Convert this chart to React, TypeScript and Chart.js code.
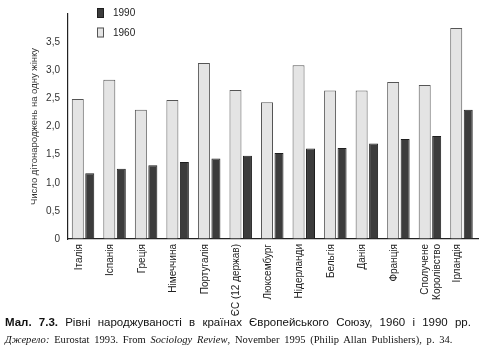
import React, { useEffect, useRef } from "react";
import { Chart, registerables } from "chart.js";

Chart.register(...registerables);

const categories: (string | string[])[] = [
  "Італія",
  "Іспанія",
  "Греція",
  "Німеччина",
  "Португалія",
  "ЄС (12 держав)",
  "Люксембург",
  "Нідерланди",
  "Бельгія",
  "Данія",
  "Франція",
  ["Сполучене", "Королівство"],
  "Ірландія",
];

const values1960 = [2.49, 2.83, 2.3, 2.47, 3.13, 2.65, 2.43, 3.09, 2.64, 2.64, 2.79, 2.74, 3.75];
const values1990 = [1.17, 1.25, 1.31, 1.37, 1.43, 1.48, 1.53, 1.61, 1.62, 1.7, 1.78, 1.83, 2.3];

const seriesLabels = ["1960", "1990"];
const legendOrder = ["1990", "1960"];

const yTickValues = [0, 0.5, 1, 1.5, 2, 2.5, 3, 3.5];
const yTickLabels = ["0", "0,5", "1,0", "1,5", "2,0", "2,5", "3,0", "3,5"];

const yTitle = "Число дітонароджень на одну жінку";

const LIGHT = "#e4e4e4";
const LIGHT_BORDER = "#555555";
const DARK = "#3c3c3c";
const DARK_BORDER = "#1e1e1e";

const insideLegend = {
  id: "insideLegend",
  afterDraw(chart: any) {
    const ctx = chart.ctx;
    ctx.save();
    legendOrder.forEach((lab, i) => {
      const ds = chart.data.datasets.find((d: any) => d.label === lab);
      const bx = 97;
      const by = 8 + i * 19.5;
      ctx.fillStyle = ds.backgroundColor;
      ctx.strokeStyle = ds.borderColor;
      ctx.lineWidth = 1;
      ctx.fillRect(bx, by, 7, 10);
      ctx.strokeRect(bx + 0.5, by + 0.5, 6, 9);
      ctx.fillStyle = "#222";
      ctx.font = "10px 'Liberation Sans', Arial, sans-serif";
      ctx.textBaseline = "middle";
      ctx.textAlign = "left";
      ctx.fillText(lab, 113, by + 5.5);
    });
    ctx.restore();
  },
};

function FertilityChart() {
  const ref = useRef<HTMLCanvasElement | null>(null);
  useEffect(() => {
    if (!ref.current) return;
    const chart = new Chart(ref.current, {
      type: "bar",
      data: {
        labels: categories,
        datasets: [
          {
            label: seriesLabels[0],
            data: values1960,
            backgroundColor: LIGHT,
            borderColor: LIGHT_BORDER,
            borderWidth: 1,
          },
          {
            label: seriesLabels[1],
            data: values1990,
            backgroundColor: DARK,
            borderColor: DARK_BORDER,
            borderWidth: 1,
            maxBarThickness: 9,
          },
        ],
      },
      options: {
        animation: false,
        responsive: false,
        events: [],
        layout: { padding: { top: 6, right: 4, left: 0, bottom: 0 } },
        datasets: {
          bar: { categoryPercentage: 0.76, barPercentage: 1 },
        },
        plugins: {
          legend: { display: false },
          tooltip: { enabled: false },
        },
        scales: {
          x: {
            grid: { drawOnChartArea: false, drawTicks: false },
            border: { color: "#222", width: 1.2 },
            ticks: {
              autoSkip: false,
              minRotation: 90,
              maxRotation: 90,
              padding: 5,
              labelOffset: -5,
              color: "#222",
              font: { size: 10, family: "'Liberation Sans', Arial, sans-serif" },
            },
            afterFit(scale: any) {
              scale.height = 83;
            },
          },
          y: {
            min: 0,
            max: 4,
            grid: { drawOnChartArea: false, drawTicks: false },
            border: { color: "#222", width: 1.2 },
            afterBuildTicks(scale: any) {
              scale.ticks = yTickValues.map((v) => ({ value: v }));
            },
            ticks: {
              padding: 8,
              color: "#333",
              font: { size: 10, family: "'Liberation Sans', Arial, sans-serif" },
              callback: (v: any) => {
                const idx = yTickValues.indexOf(Number(v));
                return idx >= 0 ? yTickLabels[idx] : "";
              },
            },
            title: {
              display: true,
              text: yTitle,
              color: "#333",
              padding: { top: 29, bottom: 0 },
              font: { size: 9.5, family: "'Liberation Sans', Arial, sans-serif" },
            },
            afterFit(scale: any) {
              scale.width = 68;
            },
          },
        },
      },
      plugins: [insideLegend],
    } as any);
    return () => chart.destroy();
  }, []);
  return (
    <canvas
      ref={ref}
      width={482}
      height={322}
      style={{ position: "absolute", left: 0, top: 0, width: 482, height: 322 }}
    />
  );
}

export default function App() {
  return (
    <div
      style={{
        position: "absolute",
        left: 0,
        top: 0,
        width: 482,
        height: 362,
        background: "#ffffff",
        overflow: "hidden",
      }}
    >
      <FertilityChart />
      <div
        style={{
          position: "absolute",
          left: 5,
          top: 314,
          whiteSpace: "nowrap",
          fontFamily: "'Liberation Sans', Arial, sans-serif",
          fontSize: 11.5,
          lineHeight: "16px",
          wordSpacing: "4px",
          color: "#111",
        }}
      >
        <b>Мал. 7.3.</b> Рівні народжуваності в країнах Європейського Союзу, 1960 і 1990 рр.
      </div>
      <div
        style={{
          position: "absolute",
          left: 5,
          top: 333,
          whiteSpace: "nowrap",
          fontFamily: "'Liberation Serif', 'Times New Roman', serif",
          fontSize: 10.5,
          lineHeight: "14px",
          wordSpacing: "2px",
          letterSpacing: "0.05px",
          color: "#111",
        }}
      >
        <i>Джерело:</i> Eurostat 1993. From <i>Sociology Review</i>, November 1995 (Philip Allan Publishers), p. 34.
      </div>
    </div>
  );
}
